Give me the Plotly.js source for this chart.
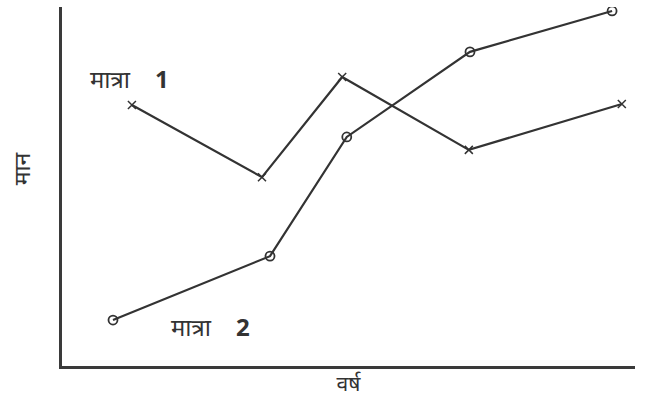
<!DOCTYPE html>
<html>
<head>
<meta charset="utf-8">
<script src="https://cdn.plot.ly/plotly-3.0.1.min.js"></script>
<style>html,body{margin:0;padding:0;background:#fff;}#chart{width:650px;height:408px;}</style>
</head>
<body>
<div id="chart"></div>
<script>
var series1Name = "मात्रा\u00a0\u00a0\u00a0\u00a0<b>1</b>";
var series2Name = "मात्रा\u00a0\u00a0\u00a0\u00a0<b>2</b>";
var series1X = [12.2, 34.9, 48.9, 71.0, 97.7];
var series1Y = [72.7, 52.6, 80.5, 60.2, 73.0];
var series2X = [8.9, 36.3, 49.7, 71.2, 96.0];
var series2Y = [12.8, 30.6, 63.8, 87.5, 98.9];
var xTitle = "वर्ष";
var yTitle = "मान";

var lineColor = "#333333";
var fontFam = "Noto Sans, DejaVu Sans, sans-serif";

var traces = [
  {x: series1X, y: series1Y, mode: "lines+markers", name: series1Name,
   line: {color: lineColor, width: 2.2},
   marker: {symbol: "x-thin", size: 8, line: {color: lineColor, width: 1.5}, color: lineColor}},
  {x: series2X, y: series2Y, mode: "lines+markers", name: series2Name,
   line: {color: lineColor, width: 2.2},
   marker: {symbol: "circle-open", size: 9, line: {color: lineColor, width: 1.8}, color: lineColor}}
];

var layout = {
  width: 650, height: 408,
  margin: {l: 62, r: 15, t: 7, b: 42},
  paper_bgcolor: "#fff", plot_bgcolor: "#fff",
  showlegend: false,
  font: {family: fontFam, color: "#333", size: 21},
  xaxis: {range: [0, 100], showgrid: false, zeroline: false, showticklabels: false, ticks: "",
          showline: true, linecolor: "#3a3a3a", linewidth: 3,
          title: {text: xTitle, standoff: 9, font: {size: 21, color: "#333"}}},
  yaxis: {range: [0, 100], showgrid: false, zeroline: false, showticklabels: false, ticks: "",
          showline: true, linecolor: "#3a3a3a", linewidth: 3},
  annotations: [
    {x: 11.7, y: 80.2, xref: "x", yref: "y", text: series1Name, showarrow: false, xanchor: "center", yanchor: "middle", font: {size: 24, color: "#333"}},
    {x: 26, y: 11.1, xref: "x", yref: "y", text: series2Name, showarrow: false, xanchor: "center", yanchor: "middle", font: {size: 24, color: "#333"}},
    {x: -0.072, y: 0.55, xref: "paper", yref: "paper", text: yTitle, textangle: -90, showarrow: false, xanchor: "center", yanchor: "middle", font: {size: 23, color: "#333"}}
  ]
};

Plotly.newPlot("chart", traces, layout, {displayModeBar: false, staticPlot: true});
</script>
</body>
</html>
